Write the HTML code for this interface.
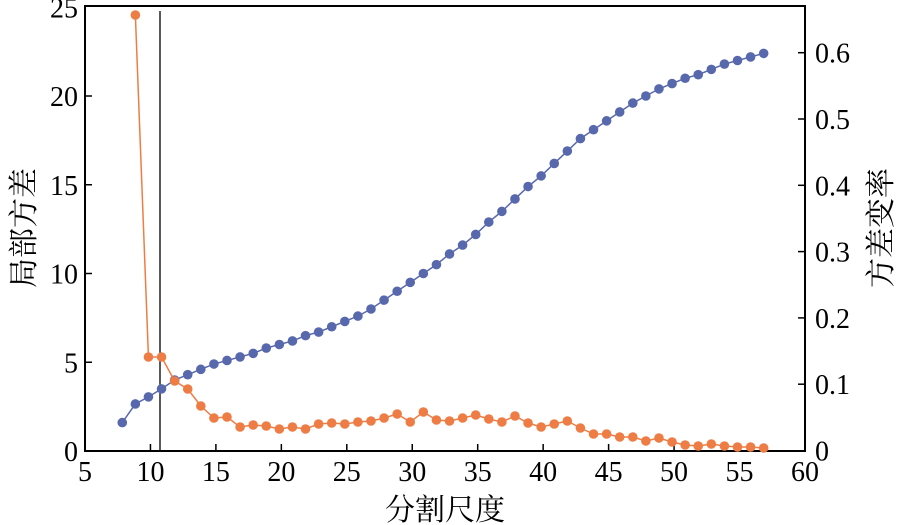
<!DOCTYPE html>
<html><head><meta charset="utf-8"><style>
html,body{margin:0;padding:0;background:#fff;}
svg{display:block;}
text{font-family:"Liberation Serif","Noto Serif CJK SC",serif;fill:#000;}
</style></head><body>
<svg id="s" width="900" height="525" viewBox="0 0 900 525" xmlns="http://www.w3.org/2000/svg">
<rect x="85" y="6" width="720" height="445" fill="none" stroke="#000" stroke-width="2"/>
<line x1="160" y1="11" x2="160" y2="451" stroke="#000" stroke-width="1.3"/>
<g id="ticks" stroke="#000" stroke-width="1.5"></g>
<g id="labels" font-size="28"></g>
<g id="series"></g>
<text x="0" y="0" font-size="30" transform="translate(34,228) rotate(-90)" text-anchor="middle">局部方差</text>
<text x="0" y="0" font-size="30" transform="translate(891,228) rotate(-90)" text-anchor="middle">方差变率</text>
<text x="445" y="520" font-size="30" text-anchor="middle">分割尺度</text>
</svg>
<script>
var NS="http://www.w3.org/2000/svg";
function el(p,t,a,txt){var e=document.createElementNS(NS,t);for(var k in a)e.setAttribute(k,a[k]);if(txt!=null)e.textContent=txt;p.appendChild(e);return e;}
var X=function(v){return 85+(v-5)*13.09;};
var YL=function(v){return 451-v*17.75;};
var tk=document.getElementById('ticks'),lb=document.getElementById('labels'),sr=document.getElementById('series');
for(var v=5;v<=60;v+=5){var x=X(v);if(v>5&&v<60)el(tk,'line',{x1:x,y1:451,x2:x,y2:444});el(lb,'text',{x:x,y:481,'text-anchor':'middle'},v);}
for(var v=0;v<=25;v+=5){var y=YL(v);if(v>0&&v<25)el(tk,'line',{x1:85,y1:y,x2:92,y2:y});el(lb,'text',{x:78,y:y+10,'text-anchor':'end'},v);}
for(var i=0;i<=6;i++){var y=450.5-i*66.3;if(i>0)el(tk,'line',{x1:805,y1:y,x2:798,y2:y});el(lb,'text',{x:815,y:y+10,'text-anchor':'start'},i==0?'0':'0.'+i);}
var blue=[1.6,2.65,3.05,3.5,4.0,4.3,4.6,4.9,5.1,5.3,5.5,5.8,6.0,6.2,6.5,6.7,7.0,7.3,7.6,8.0,8.5,9.0,9.5,10.0,10.5,11.1,11.6,12.2,12.9,13.5,14.2,14.9,15.5,16.2,16.9,17.6,18.1,18.6,19.1,19.6,20.0,20.4,20.7,21.0,21.2,21.5,21.8,22.0,22.2,22.4];
var orY=[15,357,357,381,389,406,418,417,427,425,426,429,427,429,424,423,424,422,421,418,414,422,412,420,421,418,415,419,422,416,423,427,424,421,428,434,434,437,437,441,438,442,445,446,444,446,447,447,448];
var pb=[],po=[];
blue.forEach(function(v,i){pb.push([X(8+i)-2,YL(v)]);});
orY.forEach(function(y,i){po.push([X(9+i)-2,y]);});
function draw(pts,c){el(sr,'polyline',{points:pts.map(function(p){return p.join(',')}).join(' '),fill:'none',stroke:c,'stroke-width':1.5});pts.forEach(function(p){el(sr,'circle',{cx:p[0],cy:p[1],r:4.8,fill:c});});}
draw(pb,'#5868ad');
draw(po,'#ee7d45');
</script>
</body></html>
